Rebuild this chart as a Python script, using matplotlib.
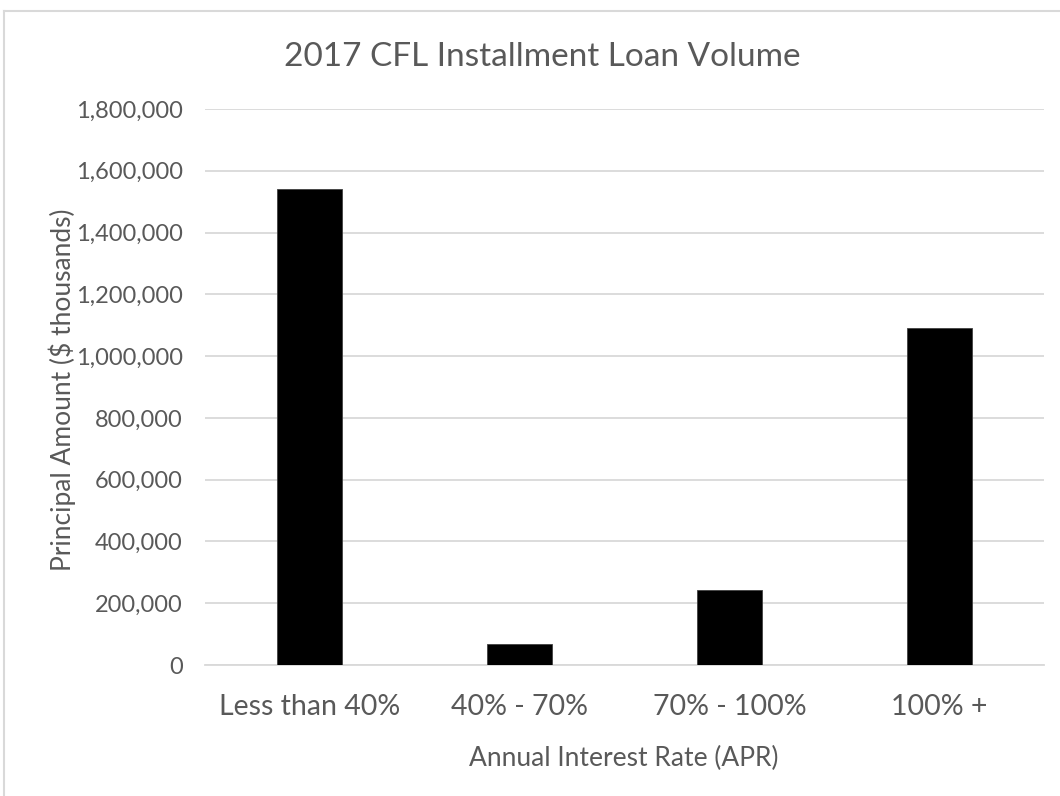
import matplotlib
matplotlib.use("Agg")
import matplotlib.pyplot as plt
from matplotlib.lines import Line2D
from matplotlib.ticker import FuncFormatter, MultipleLocator

categories = ["Less than 40%", "40% - 70%", "70% - 100%", "100% +"]
values = [1541000, 69600, 242800, 1091000]

plt.rcParams['font.family'] = ['Lato', 'DejaVu Sans']
txt = "#595959"

fig = plt.figure(figsize=(10.6, 7.96), dpi=100)
ax = fig.add_axes([205/1060, 1-665/796, (1044-205)/1060, (665-109)/796])

x = range(len(categories))
ax.bar(x, values, width=0.31, color="black", edgecolor="#404040", linewidth=0.6, zorder=3)
ax.set_xlim(-0.5, len(categories)-0.5)
ax.set_ylim(0, 1800000)
ax.yaxis.set_major_locator(MultipleLocator(200000))
ax.yaxis.set_major_formatter(FuncFormatter(lambda v, p: f"{int(v):,}"))
ax.grid(axis="y", color="#d9d9d9", linewidth=1.3, zorder=0)
ax.set_xticks(list(x))
ax.set_xticklabels(categories, fontsize=20.5, color=txt)
for s in ["top", "right", "left"]:
    ax.spines[s].set_visible(False)
ax.spines["bottom"].set_color("#d9d9d9")
ax.spines["bottom"].set_linewidth(1.3)
ax.tick_params(axis="both", length=0, colors=txt)
ax.tick_params(axis="y", labelsize=17, pad=16)
ax.tick_params(axis="x", pad=21)
ax.set_ylabel("Principal Amount ($ thousands)", fontsize=19, color=txt)
ax.yaxis.set_label_coords(62/1060, 1-390/796, transform=fig.transFigure)
ax.set_xlabel("Annual Interest Rate (APR)", fontsize=19, color=txt)
ax.xaxis.set_label_coords(624/1060, 1-758/796, transform=fig.transFigure)
ax.xaxis.label.set_va("center")
ax.yaxis.label.set_va("center")
fig.text(542/1060, 1-57/796, "2017 CFL Installment Loan Volume", ha="center", va="center",
         fontsize=24, color=txt)

fig.add_artist(Line2D([4/1060, 4/1060], [0, 1-11/796], color="#d9d9d9", linewidth=1.5, transform=fig.transFigure))
fig.add_artist(Line2D([4/1060, 1], [1-11/796, 1-11/796], color="#d9d9d9", linewidth=1.5, transform=fig.transFigure))

fig.savefig("out.png", dpi=100, facecolor="white")
